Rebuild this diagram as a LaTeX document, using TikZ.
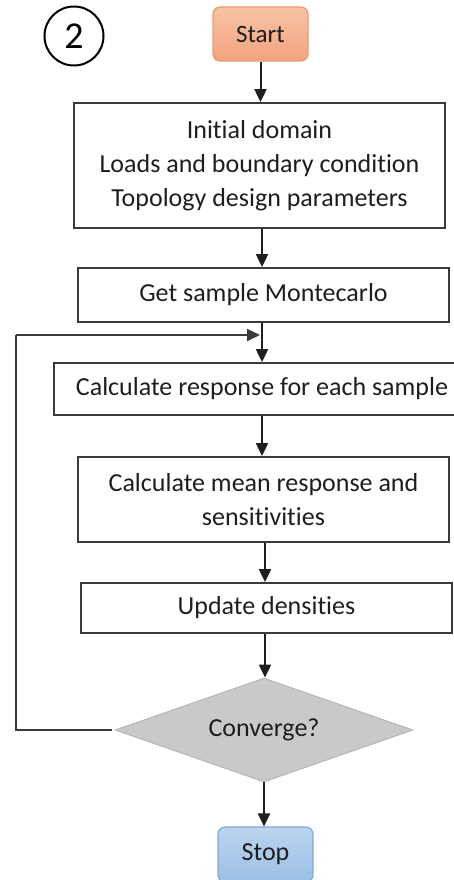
\documentclass[tikz,border=0pt]{standalone}
\usepackage{fontspec}
\setmainfont{Carlito}[RawFeature={-liga;-clig;-dlig}]
\usetikzlibrary{arrows.meta,shapes.geometric}
\definecolor{ink}{HTML}{1E1E1E}
\definecolor{frame}{HTML}{3A3A3A}
\definecolor{startTop}{HTML}{F7C3A5}
\definecolor{startBot}{HTML}{F3A37E}
\definecolor{startLine}{HTML}{EE9A6E}
\definecolor{stopTop}{HTML}{BCD4EE}
\definecolor{stopBot}{HTML}{9CBFE6}
\definecolor{stopLine}{HTML}{7EAADB}
\definecolor{decFill}{HTML}{C9C9C9}
\definecolor{decLine}{HTML}{B0B0B0}
\tikzset{
  txt/.style={font=\fontsize{26}{34}\selectfont, text=ink, align=center},
  procbox/.style={txt, draw=frame, line width=1.8pt, fill=white, inner sep=0pt},
  termbox/.style={txt, rounded corners=7pt, line width=1.2pt, inner sep=0pt,
    minimum width=95pt, minimum height=54pt},
  flow/.style={draw=ink, line width=2pt, -{Triangle[length=13pt,width=12pt]}},
  plain/.style={draw=frame, line width=1.8pt}
}
\begin{document}
\begin{tikzpicture}[x=1pt,y=-1pt]
\path[use as bounding box, clip] (0,0) rectangle (454,880);

% step marker
\node[circle, draw=black, line width=2pt, minimum size=59pt, inner sep=0pt,
      font=\fontsize{38}{38}\selectfont] (mark) at (74,36) {2};

% terminals
\node[termbox, draw=startLine, top color=startTop, bottom color=startBot,
      font=\fontsize{25}{30}\selectfont] (start) at (260.5,34) {Start};
\node[termbox, draw=stopLine, top color=stopTop, bottom color=stopBot,
      minimum height=55pt] (stop) at (265.5,854.5) {Stop};

% process steps
\node[procbox, minimum width=371pt, minimum height=125pt] (init) at (259.5,165.5)
  {Initial domain\\Loads and boundary condition\\Topology design parameters};
\node[procbox, minimum width=371pt, minimum height=54pt] (sample) at (263.5,295)
  {Get sample Montecarlo};
\node[procbox, minimum width=416pt, minimum height=52pt] (resp) at (262,389)
  {Calculate response for each sample};
\node[procbox, minimum width=371pt, minimum height=85pt] (mean) at (263.5,499.5)
  {Calculate mean response and\\sensitivities};
\node[procbox, minimum width=371pt, minimum height=50pt] (update) at (266.5,608)
  {Update densities};

% decision
\node[diamond, txt, fill=decFill, draw=decLine, line width=0.8pt, inner sep=0pt,
      aspect=2.87, minimum width=298pt, minimum height=104pt] (conv) at (264,730)
  {Converge?};

% main flow
\draw[flow] (start.south) -- (start.south |- init.north);
\draw[flow] ([xshift=2.5pt]init.south) -- ([xshift=2.5pt]init.south |- sample.north);
\draw[flow] ([xshift=-1.5pt]sample.south) -- ([xshift=-1.5pt]sample.south |- resp.north);
\draw[flow] (resp.south) -- (resp.south |- mean.north);
\draw[flow] ([xshift=1.5pt]mean.south) -- ([xshift=1.5pt]mean.south |- update.north);
\draw[flow] ([xshift=-1.5pt]update.south) -- ([xshift=-1.5pt]update.south |- conv.north);
\draw[flow] (conv.south) -- (conv.south |- stop.north);

% feedback loop
\coordinate (loopcorner) at (16,335);
\coordinate (loopjoin) at (260,335);
\draw[plain] ([xshift=-3pt]conv.west) -| (loopcorner);
\draw[flow, draw=frame] (loopcorner) -- (loopjoin);
\end{tikzpicture}
\end{document}
